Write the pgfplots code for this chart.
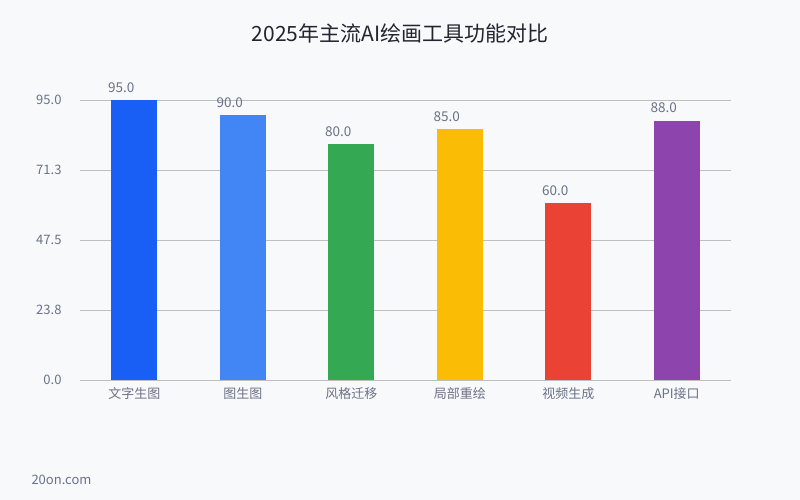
\documentclass[border=0pt]{standalone}
\usepackage{pgfplots}
\pgfplotsset{compat=1.18}
\usepackage{fontspec}
\setmainfont{Noto Sans CJK SC}
\definecolor{bg}{HTML}{F8F9FB}
\definecolor{grid}{HTML}{C3CDE0}
\definecolor{lbl}{HTML}{6B7287}
\definecolor{ttl}{HTML}{222430}
\definecolor{c1}{HTML}{1A5FF5}
\definecolor{c2}{HTML}{4285F4}
\definecolor{c3}{HTML}{34A853}
\definecolor{c4}{HTML}{FBBC05}
\definecolor{c5}{HTML}{EA4335}
\definecolor{c6}{HTML}{8E44AD}
\begin{document}
\begin{tikzpicture}[x=1pt,y=1pt]
\fill[bg] (0,0) rectangle (800,500);
\node[font=\fontsize{21}{25}\selectfont, text=ttl] at (400,467) {2025年主流AI绘画工具功能对比};
\node[font=\fontsize{13}{15}\selectfont, text=lbl, anchor=west] at (28,20) {20on.com};
\begin{axis}[
  at={(80pt,120pt)}, anchor=south west,
  width=651pt, height=280pt, scale only axis,
  xmin=-0.5, xmax=5.5, ymin=0, ymax=95,
  axis line style={draw=none},
  xmajorgrids=false,
  ymajorgrids, grid style={grid, line width=0.8pt},
  major tick length=0pt,
  xtick style={draw=none}, ytick style={draw=none},
  ytick={0,23.75,47.5,71.25,95},
  yticklabels={0.0,23.8,47.5,71.3,95.0},
  xtick={0,1,2,3,4,5},
  xticklabels={文字生图,图生图,风格迁移,局部重绘,视频生成,API接口},
  tick label style={font=\fontsize{13}{15}\selectfont, text=lbl},
  yticklabel style={xshift=-15pt},
  xticklabel style={yshift=-4pt},
  /pgf/number format/assume math mode=true,
  ybar, bar width=46pt, bar shift=0pt,
  nodes near coords={\pgfmathprintnumber[fixed,fixed zerofill,precision=1]{\pgfplotspointmeta}},
  every node near coord/.append style={font=\fontsize{13.5}{15}\selectfont, text=lbl, yshift=4pt, xshift=-13pt},
  clip=false,
]
\addplot[fill=c1, draw=none] coordinates {(0,95)};
\addplot[fill=c2, draw=none] coordinates {(1,90)};
\addplot[fill=c3, draw=none] coordinates {(2,80)};
\addplot[fill=c4, draw=none] coordinates {(3,85)};
\addplot[fill=c5, draw=none] coordinates {(4,60)};
\addplot[fill=c6, draw=none] coordinates {(5,88)};
\end{axis}
\end{tikzpicture}
\end{document}
